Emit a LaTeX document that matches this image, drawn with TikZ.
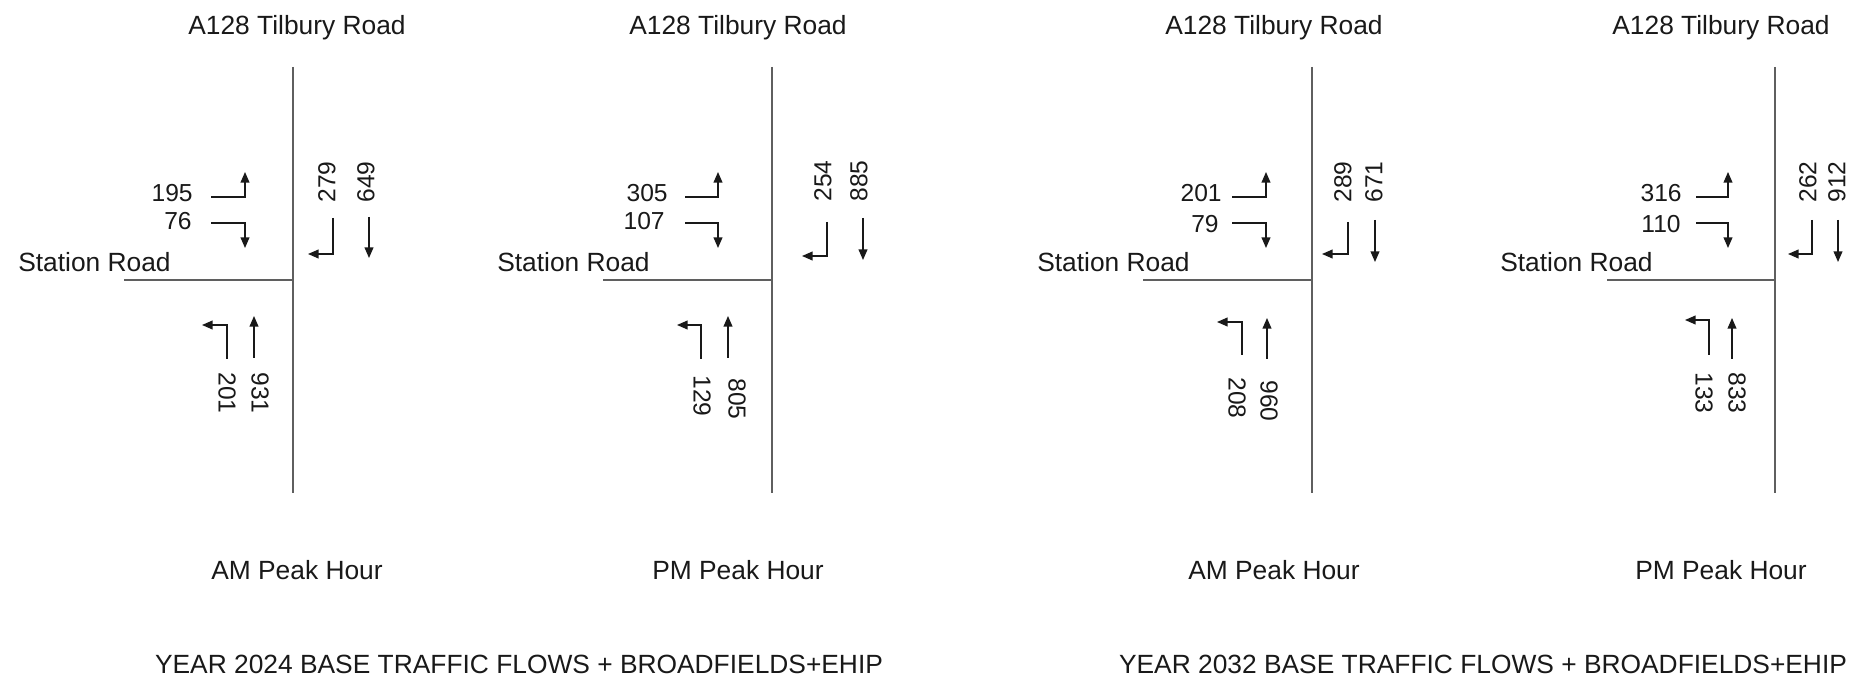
\documentclass[tikz,border=0pt]{standalone}
\usepackage{fontspec}
\setmainfont{Liberation Sans}
\usepackage{tikz}
\usetikzlibrary{arrows.meta}
\definecolor{roadgray}{RGB}{95,95,95}
\definecolor{inkgray}{RGB}{25,25,25}

\begin{document}
\begin{tikzpicture}[x=0.02cm, y=-0.02cm,
    road/.style={line width=1.2pt, draw=roadgray},
    flow/.style={-{Triangle[length=6pt, width=5pt]}, line width=0.75pt, inkgray},
    lbl/.style={font=\fontsize{15}{18}\selectfont, inner sep=0pt, text=inkgray},
    num/.style={font=\fontsize{14}{16}\selectfont, inner sep=0pt, text=inkgray}]
    \useasboundingbox (0,0) rectangle (1864,682);

    % Junction 1 - AM 2024
    \begin{scope}[shift={(293,0)}]
        \draw[road] (0,67) -- (0,493);
        \draw[road] (-169,280) -- (0,280);
        \node[lbl, anchor=base] (tA) at (4,35) {A128 Tilbury Road};
        \node[lbl, anchor=base east] (sA) at (-122,272) {Station Road};
        \node[lbl, anchor=base] (pA) at (4,579) {AM Peak Hour};
        % Station Road approach
        \node[num, anchor=base east] (wlA) at (-100,202) {195};
        \draw[flow] (-82,197) -- (-48,197) -- (-48,172);
        \node[num, anchor=base east] (wrA) at (-101,230) {76};
        \draw[flow] (-82,223) -- (-48,223) -- (-48,248);
        % north approach
        \node[num, rotate=90, anchor=west] (nlA) at (34,203) {279};
        \node[num, rotate=90, anchor=west] (ntA) at (73,203) {649};
        \draw[flow] (40,218) -- (40,254) -- (15,254);
        \draw[flow] (76,217) -- (76,258);
        % south approach
        \draw[flow] (-66,359) -- (-66,325) -- (-91,325);
        \draw[flow] (-39,358) -- (-39,316);
        \node[num, rotate=-90, anchor=west] (slA) at (-66,372) {201};
        \node[num, rotate=-90, anchor=west] (stA) at (-33,372) {931};
    \end{scope}

    % Junction 2 - PM 2024
    \begin{scope}[shift={(772,0)}]
        \draw[road] (0,67) -- (0,493);
        \draw[road] (-169,280) -- (0,280);
        \node[lbl, anchor=base] (tB) at (-34,35) {A128 Tilbury Road};
        \node[lbl, anchor=base east] (sB) at (-122,272) {Station Road};
        \node[lbl, anchor=base] (pB) at (-34,579) {PM Peak Hour};
        % Station Road approach
        \node[num, anchor=base east] (wlB) at (-104,202) {305};
        \draw[flow] (-87,197) -- (-54,197) -- (-54,172);
        \node[num, anchor=base east] (wrB) at (-107,230) {107};
        \draw[flow] (-87,223) -- (-54,223) -- (-54,248);
        % north approach
        \node[num, rotate=90, anchor=west] (nlB) at (51,202) {254};
        \node[num, rotate=90, anchor=west] (ntB) at (87,202) {885};
        \draw[flow] (55,222) -- (55,256) -- (30,256);
        \draw[flow] (91,218) -- (91,260);
        % south approach
        \draw[flow] (-71,359) -- (-71,325) -- (-95,325);
        \draw[flow] (-44,358) -- (-44,316);
        \node[num, rotate=-90, anchor=west] (slB) at (-70,375) {129};
        \node[num, rotate=-90, anchor=west] (stB) at (-35,378) {805};
    \end{scope}

    % Junction 3 - AM 2032
    \begin{scope}[shift={(1312,0)}]
        \draw[road] (0,67) -- (0,493);
        \draw[road] (-169,280) -- (0,280);
        \node[lbl, anchor=base] (tC) at (-38,35) {A128 Tilbury Road};
        \node[lbl, anchor=base east] (sC) at (-122,272) {Station Road};
        \node[lbl, anchor=base] (pC) at (-38,579) {AM Peak Hour};
        % Station Road approach
        \node[num, anchor=base east] (wlC) at (-90,202) {201};
        \draw[flow] (-80,197) -- (-46,197) -- (-46,172);
        \node[num, anchor=base east] (wrC) at (-93,233) {79};
        \draw[flow] (-80,223) -- (-46,223) -- (-46,248);
        % north approach
        \node[num, rotate=90, anchor=west] (nlC) at (31,203) {289};
        \node[num, rotate=90, anchor=west] (ntC) at (62,203) {671};
        \draw[flow] (36,222) -- (36,254) -- (10,254);
        \draw[flow] (63,220) -- (63,262);
        % south approach
        \draw[flow] (-70,355) -- (-70,322) -- (-95,322);
        \draw[flow] (-45,359) -- (-45,318);
        \node[num, rotate=-90, anchor=west] (slC) at (-75,377) {208};
        \node[num, rotate=-90, anchor=west] (stC) at (-43,380) {960};
    \end{scope}

    % Junction 4 - PM 2032
    \begin{scope}[shift={(1775,0)}]
        \draw[road] (0,67) -- (0,493);
        \draw[road] (-168,280) -- (0,280);
        \node[lbl, anchor=base] (tD) at (-54,35) {A128 Tilbury Road};
        \node[lbl, anchor=base east] (sD) at (-122,272) {Station Road};
        \node[lbl, anchor=base] (pD) at (-54,579) {PM Peak Hour};
        % Station Road approach
        \node[num, anchor=base east] (wlD) at (-93,202) {316};
        \draw[flow] (-79,197) -- (-47,197) -- (-47,172);
        \node[num, anchor=base east] (wrD) at (-94,233) {110};
        \draw[flow] (-79,223) -- (-47,223) -- (-47,248);
        % north approach
        \node[num, rotate=90, anchor=west] (nlD) at (33,203) {262};
        \node[num, rotate=90, anchor=west] (ntD) at (62,203) {912};
        \draw[flow] (37,220) -- (37,254) -- (13,254);
        \draw[flow] (63,220) -- (63,262);
        % south approach
        \draw[flow] (-66,355) -- (-66,320) -- (-90,320);
        \draw[flow] (-43,359) -- (-43,318);
        \node[num, rotate=-90, anchor=west] (slD) at (-71,372) {133};
        \node[num, rotate=-90, anchor=west] (stD) at (-38,372) {833};
    \end{scope}

    % Scenario captions
    \node[lbl, anchor=base] (yr24) at (519,673) {YEAR 2024 BASE TRAFFIC FLOWS + BROADFIELDS+EHIP};
    \node[lbl, anchor=base] (yr32) at (1483,673) {YEAR 2032 BASE TRAFFIC FLOWS + BROADFIELDS+EHIP};
\end{tikzpicture}
\end{document}
